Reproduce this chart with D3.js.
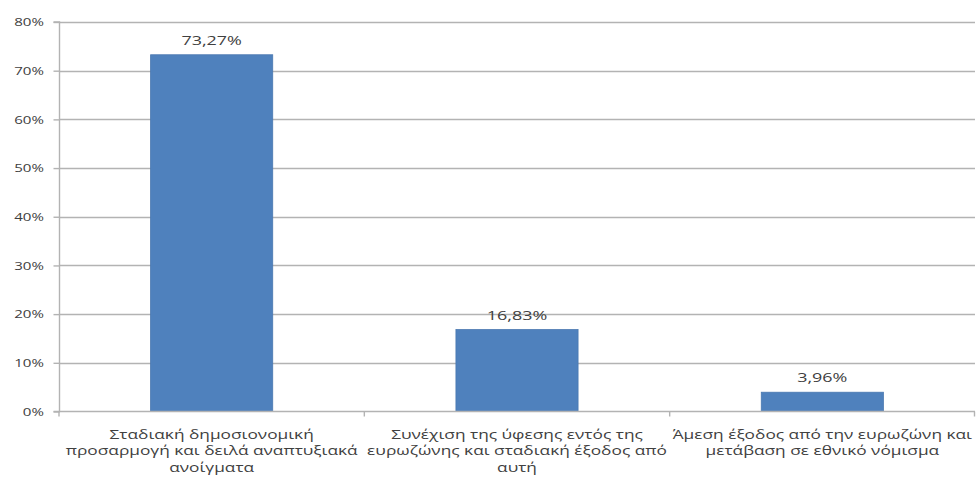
<!DOCTYPE html>
<html>
<head>
<meta charset="utf-8">
<script src="https://cdn.jsdelivr.net/npm/d3@7"></script>
<style>
  html, body { margin: 0; padding: 0; background: #fff; }
  svg { display: block; }
</style>
</head>
<body>
<svg id="chart" width="976" height="480"></svg>
<script>
const categories = [
  "Σταδιακή δημοσιονομική\nπροσαρμογή και δειλά αναπτυξιακά\nανοίγματα",
  "Συνέχιση της ύφεσης εντός της\nευρωζώνης και σταδιακή έξοδος από\nαυτή",
  "Άμεση έξοδος από την ευρωζώνη και\nμετάβαση σε εθνικό νόμισμα"
];
const values = [73.27, 16.83, 3.96];
const valueLabels = ["73,27%", "16,83%", "3,96%"];
const yTicks = [0, 10, 20, 30, 40, 50, 60, 70, 80];

const svg = d3.select("#chart");
const margin = { left: 59, right: 1, top: 22, bottom: 68.5 };
const W = 976, H = 480;
const FONT = "'Open Sans', sans-serif";
const TEXT = "#404040";
const GRID = "#b3b3b3";

const x = d3.scaleBand().domain(d3.range(categories.length))
  .range([margin.left, W - margin.right]).paddingInner(0.6).paddingOuter(0.3);
const y = d3.scaleLinear().domain([0, 80]).range([H - margin.bottom, margin.top]);

// gridlines
svg.append("g").selectAll("line").data(yTicks.filter(d => d > 0)).join("line")
  .attr("x1", margin.left).attr("x2", W - margin.right)
  .attr("y1", d => Math.round(y(d)) + 0.5).attr("y2", d => Math.round(y(d)) + 0.5)
  .attr("stroke", GRID).attr("stroke-width", 1.4);

// y axis
const yAxis = d3.axisLeft(y).tickValues(yTicks).tickFormat(d => d + "%").tickSize(6).tickPadding(6);
const gy = svg.append("g").attr("transform", `translate(${margin.left + 0.5},0)`).call(yAxis);
gy.select(".domain").attr("stroke", GRID).attr("stroke-width", 1.4).attr("d", `M-6,${y(0)}H0V${y(80)}H-6`);
gy.selectAll(".tick line").attr("stroke", GRID).attr("stroke-width", 1.4);
gy.selectAll(".tick text").attr("fill", TEXT).style("font-family", FONT).style("font-size", "11.6px")
  .attr("transform", "scale(1.3,1)");

// bars
svg.append("g").selectAll("rect").data(values).join("rect")
  .attr("x", (d, i) => x(i)).attr("width", x.bandwidth())
  .attr("y", d => y(d)).attr("height", d => y(0) - y(d))
  .attr("fill", "#4f81bd").attr("stroke", "#4a78b0").attr("stroke-width", 0.8);

// x axis
const xBound = d3.scaleLinear().domain([0, categories.length]).range([margin.left, W - margin.right]);
const gx = svg.append("g");
gx.append("line").attr("x1", margin.left).attr("x2", W - margin.right)
  .attr("y1", y(0)).attr("y2", y(0)).attr("stroke", GRID).attr("stroke-width", 1.4);
gx.selectAll("line.tk").data(d3.range(categories.length + 1)).join("line").attr("class", "tk")
  .attr("x1", d => Math.min(xBound(d), W - 1.5)).attr("x2", d => Math.min(xBound(d), W - 1.5))
  .attr("y1", y(0)).attr("y2", y(0) + 5).attr("stroke", GRID).attr("stroke-width", 1.4);

// value labels
svg.append("g").selectAll("text").data(values).join("text")
  .attr("transform", (d, i) => `translate(${x(i) + x.bandwidth() / 2},${y(d) - 10}) scale(1.38,1)`)
  .attr("text-anchor", "middle").attr("fill", TEXT)
  .style("font-family", FONT).style("font-size", "13px")
  .text((d, i) => valueLabels[i]);

// category labels
const cl = svg.append("g").selectAll("text").data(categories).join("text")
  .attr("text-anchor", "middle").attr("fill", TEXT)
  .style("font-family", FONT).style("font-size", "13px")
  .attr("transform", (d, i) => `translate(${x(i) + x.bandwidth() / 2},${y(0) + 27}) scale(1.33,1)`);
cl.each(function(d) {
  const t = d3.select(this);
  d.split("\n").forEach((line, j) => {
    t.append("tspan").attr("x", 0).attr("y", j * 17).text(line);
  });
});
</script>
</body>
</html>
